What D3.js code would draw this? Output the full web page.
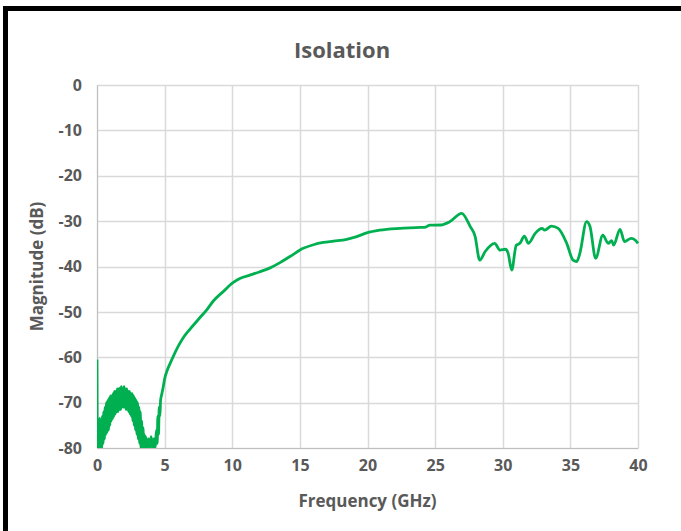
<!DOCTYPE html>
<html>
<head>
<meta charset="utf-8">
<script src="https://cdn.jsdelivr.net/npm/d3@7"></script>
<style>
  body { margin: 0; background: #fff; }
  svg { display: block; }
  .tick text { font-family: "Open Sans", sans-serif; font-weight: 700; fill: #595959; }
</style>
</head>
<body>
<svg id="chart" width="681" height="531"></svg>
<script>
// chart values
const title = "Isolation";
const xLabel = "Frequency (GHz)";
const yLabel = "Magnitude (dB)";
const xTicks = [0, 5, 10, 15, 20, 25, 30, 35, 40];
const yTicks = [0, -10, -20, -30, -40, -50, -60, -70, -80];

const freq = [
  0.00, 0.03, 0.10, 0.15, 0.20, 0.25, 0.30, 0.35, 0.40, 0.45,
  0.50, 0.55, 0.60, 0.65, 0.70, 0.75, 0.80, 0.85, 0.90, 0.95,
  1.00, 1.05, 1.10, 1.15, 1.20, 1.25, 1.30, 1.35, 1.40, 1.45,
  1.50, 1.55, 1.60, 1.65, 1.70, 1.75, 1.80, 1.85, 1.90, 1.95,
  2.00, 2.05, 2.10, 2.15, 2.20, 2.25, 2.30, 2.35, 2.40, 2.45,
  2.50, 2.55, 2.60, 2.65, 2.70, 2.75, 2.80, 2.85, 2.90, 2.95,
  3.00, 3.05, 3.10, 3.15, 3.20, 3.25, 3.30, 3.35, 3.40, 3.45,
  3.50, 3.55, 3.60, 3.70, 3.80, 3.90, 4.00, 4.10, 4.20, 4.30,
  4.40, 4.45, 4.50, 4.55, 4.60, 4.65, 4.70, 4.80, 4.90, 5.00,
  5.20, 5.40, 5.64, 6.00, 6.40, 6.88, 7.60, 8.10, 8.60,
  9.34, 10.08, 10.6, 11.3, 12.0, 12.8, 13.5, 14.27, 15.25, 16.0,
  16.73, 17.5, 18.46, 19.2, 19.94, 20.9, 22.4, 23.9, 24.3, 24.6,
  25.4, 26.1, 26.96, 27.6, 27.95, 28.3, 28.7, 29.4, 29.8, 30.2,
  30.4, 30.66, 31.0, 31.27, 31.6, 31.9, 32.4, 32.9, 33.1, 33.6,
  34.1, 34.73, 35.2, 35.47, 35.7, 36.2, 36.45, 36.87, 37.4, 37.8,
  38.05, 38.2, 38.67, 39.0, 39.5, 39.8, 40.0
];

const magnitude = [
  -60.5, -80, -74, -80, -73.5, -80, -75, -80, -73, -79,
  -72, -78, -71, -77, -70, -76.5, -69.5, -76, -69, -75,
  -68.5, -74, -68.5, -73.5, -68, -73, -67.5, -72.5, -67.5, -72,
  -67, -72, -67, -71.5, -66.8, -71.5, -66.5, -71, -67, -71,
  -66.5, -71, -67, -71.5, -67, -71.5, -67.5, -72, -67.5, -72.5,
  -68, -73, -68, -74, -68.5, -75, -69, -76, -69.5, -77,
  -70, -78, -71, -79, -72, -80, -74, -80, -75.5, -80,
  -77, -80, -77.5, -80, -78, -80, -77.5, -80, -78, -80,
  -76, -79, -73, -77, -71, -73, -69.5, -68, -66.5, -64.8,
  -62.8, -61.4, -59.8, -57.6, -55.6, -53.8, -51.3, -49.6, -47.6,
  -45.5, -43.5, -42.6, -41.9, -41.2, -40.3, -39.2, -37.8, -36, -35.2,
  -34.7, -34.4, -34, -33.4, -32.6, -32, -31.6, -31.4, -31.3, -30.9,
  -30.85, -30.1, -28.3, -31.2, -33.3, -38.6, -36.7, -34.9, -36.4, -36.2,
  -37.1, -40.8, -35.3, -34.9, -33.3, -34.9, -32.7, -31.6, -32, -31.1,
  -31.6, -34.9, -38.6, -38.9, -37.1, -30.1, -31.2, -38.2, -33.1, -34.9,
  -34.3, -35.3, -31.8, -34.5, -33.8, -34.2, -34.9
];

const points = freq.map((f, i) => ({f: f, m: magnitude[i]}));

const plot = {left: 97, right: 638, top: 85, bottom: 448};
const grey = "#595959";

var svg = d3.select("#chart");

// black frame around the chart area
svg.append("rect")
    .attr("x", 5.5)
    .attr("y", 8.5)
    .attr("width", 700)
    .attr("height", 600)
    .attr("fill", "none")
    .attr("stroke", "#000")
    .attr("stroke-width", 5);

var x = d3.scaleLinear()
    .domain([0, 40])
    .range([plot.left, plot.right]);

var y = d3.scaleLinear()
    .domain([-80, 0])
    .range([plot.bottom, plot.top]);

// gridlines
svg.append("g")
    .selectAll("line.vgrid")
    .data(xTicks)
    .enter()
  .append("line")
    .attr("x1", d => Math.round(x(d)) + 0.5)
    .attr("x2", d => Math.round(x(d)) + 0.5)
    .attr("y1", plot.top)
    .attr("y2", plot.bottom)
    .attr("stroke", "#d9d9d9")
    .attr("stroke-width", 1.5);

svg.append("g")
    .selectAll("line.hgrid")
    .data(yTicks)
    .enter()
  .append("line")
    .attr("x1", plot.left)
    .attr("x2", plot.right)
    .attr("y1", d => Math.round(y(d)) + 0.5)
    .attr("y2", d => Math.round(y(d)) + 0.5)
    .attr("stroke", "#d9d9d9")
    .attr("stroke-width", 1.5);

// axes (labels only, lines drawn as grid); plain hyphen minus like the original
var xAxis = svg.append("g")
    .attr("transform", "translate(0," + plot.bottom + ")")
    .call(d3.axisBottom(x).tickValues(xTicks).tickFormat(d => String(d)).tickSize(0).tickPadding(12));
xAxis.select(".domain").attr("stroke", "#bfbfbf");
xAxis.selectAll("text").style("font-size", "16px");

var yAxis = svg.append("g")
    .attr("transform", "translate(" + plot.left + ",0)")
    .call(d3.axisLeft(y).tickValues(yTicks).tickFormat(d => String(d)).tickSize(0).tickPadding(15));
yAxis.select(".domain").attr("stroke", "#bfbfbf");
yAxis.selectAll("text").style("font-size", "16px");

// the series, clipped to the plot area like the axis min
svg.append("clipPath")
    .attr("id", "plot-clip")
  .append("rect")
    .attr("x", plot.left)
    .attr("y", plot.top - 5)
    .attr("width", plot.right - plot.left + 3)
    .attr("height", plot.bottom - plot.top + 5);

var line = d3.line()
    .x(d => x(d.f))
    .y(d => y(d.m))
    .curve(d3.curveMonotoneX);

svg.append("path")
    .datum(points)
    .attr("clip-path", "url(#plot-clip)")
    .attr("fill", "none")
    .attr("stroke", "#00b050")
    .attr("stroke-width", 2.8)
    .attr("stroke-linejoin", "round")
    .attr("d", line);

// titles
svg.append("text")
    .attr("x", 342)
    .attr("y", 58)
    .attr("text-anchor", "middle")
    .style("font-family", "Open Sans, sans-serif")
    .style("font-weight", 700)
    .style("font-size", "22px")
    .attr("fill", grey)
    .text(title);

svg.append("text")
    .attr("x", (plot.left + plot.right) / 2)
    .attr("y", 507)
    .attr("text-anchor", "middle")
    .style("font-family", "Open Sans, sans-serif")
    .style("font-weight", 700)
    .style("font-size", "17px")
    .attr("fill", grey)
    .text(xLabel);

svg.append("text")
    .attr("transform", "translate(43," + (plot.top + plot.bottom) / 2 + ")rotate(-90)")
    .attr("text-anchor", "middle")
    .style("font-family", "Open Sans, sans-serif")
    .style("font-weight", 700)
    .style("font-size", "17px")
    .attr("fill", grey)
    .text(yLabel);
</script>
</body>
</html>
